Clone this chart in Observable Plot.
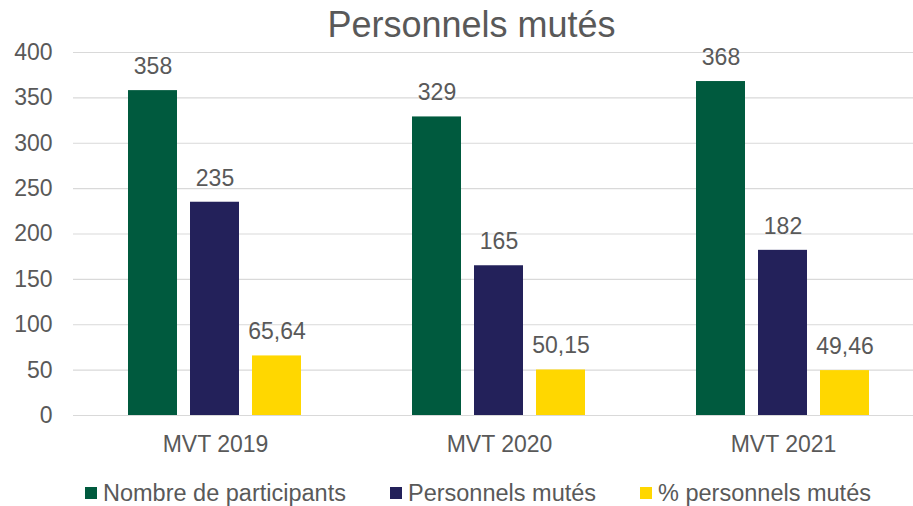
<!DOCTYPE html>
<html>
<head>
<meta charset="utf-8">
<script src="https://cdn.jsdelivr.net/npm/d3@7"></script>
<script src="https://cdn.jsdelivr.net/npm/@observablehq/plot@0.6"></script>
<style>
  html, body { margin: 0; padding: 0; background: #fff; overflow: hidden; }
  body { width: 913px; height: 506px; position: relative; font-family: "Liberation Sans", Arial, sans-serif; color: #595959; }
  #title { position: absolute; top: 4px; left: 471.5px; transform: translateX(-50%); white-space: nowrap; font-size: 36px; line-height: normal; }
  #chart { position: absolute; top: 0; left: 0; width: 913px; height: 470px; overflow: hidden; }
  #legend { position: absolute; top: 480px; left: 85px; display: flex; align-items: center; gap: 44px; font-size: 23.5px; line-height: 26px; height: 26px; white-space: nowrap; }
  .item { display: flex; align-items: center; }
  .sw { width: 12px; height: 12px; margin-right: 6px; }
</style>
</head>
<body>
<div id="title">Personnels mutés</div>
<div id="chart"></div>
<div id="legend"></div>
<script>
const groups = ["MVT 2019", "MVT 2020", "MVT 2021"];
const series = ["Nombre de participants", "Personnels mutés", "% personnels mutés"];
const participants = [358, 329, 368];
const mutes = [235, 165, 182];
const pctMutes = [65.64, 50.15, 49.46];
const colors = ["#005A3E", "#23215A", "#FFD700"];
const yTicks = [0, 50, 100, 150, 200, 250, 300, 350, 400];

const valuesBySeries = [participants, mutes, pctMutes];
const rows = [];
groups.forEach((g, i) => {
  series.forEach((s, j) => {
    const v = valuesBySeries[j][i];
    rows.push({group: g, series: s, value: v,
      label: Number.isInteger(v) ? String(v) : v.toFixed(2).replace(".", ",")});
  });
});

const chart = Plot.plot({
  width: 913,
  height: 470,
  marginTop: 52,
  marginBottom: 55,
  marginLeft: 73,
  marginRight: -12.75,
  style: {fontFamily: "Liberation Sans, Arial, sans-serif", fontSize: "23px", color: "#595959", background: "transparent"},
  facet: {data: rows, x: "group"},
  fx: {domain: groups, padding: 0, axis: "bottom", tickSize: 0, tickPadding: 20, label: null},
  x: {domain: series, paddingInner: 0.206, paddingOuter: 0.857, axis: null},
  y: {domain: [0, 400], ticks: yTicks, tickSize: 0, tickPadding: 21, label: null, tickFormat: d => String(d)},
  color: {domain: series, range: colors},
  marks: [
    Plot.ruleY(yTicks, {stroke: "#d9d9d9", strokeWidth: 1.2}),
    Plot.barY(rows, {x: "series", y: "value", fill: "series"}),
    Plot.text(rows, {x: "series", y: "value", text: "label", dy: -24, fill: "#595959", fontSize: 23})
  ]
});
// drop Plot's warning glyph (not part of the chart)
chart.querySelectorAll("text").forEach(t => { if (t.textContent.includes("\u26A0")) t.remove(); });
document.getElementById("chart").appendChild(chart);

const legend = document.getElementById("legend");
series.forEach((s, j) => {
  const item = document.createElement("div");
  item.className = "item";
  const sw = document.createElement("span");
  sw.className = "sw";
  sw.style.background = colors[j];
  const t = document.createElement("span");
  t.textContent = s;
  item.appendChild(sw);
  item.appendChild(t);
  legend.appendChild(item);
});
</script>
</body>
</html>
